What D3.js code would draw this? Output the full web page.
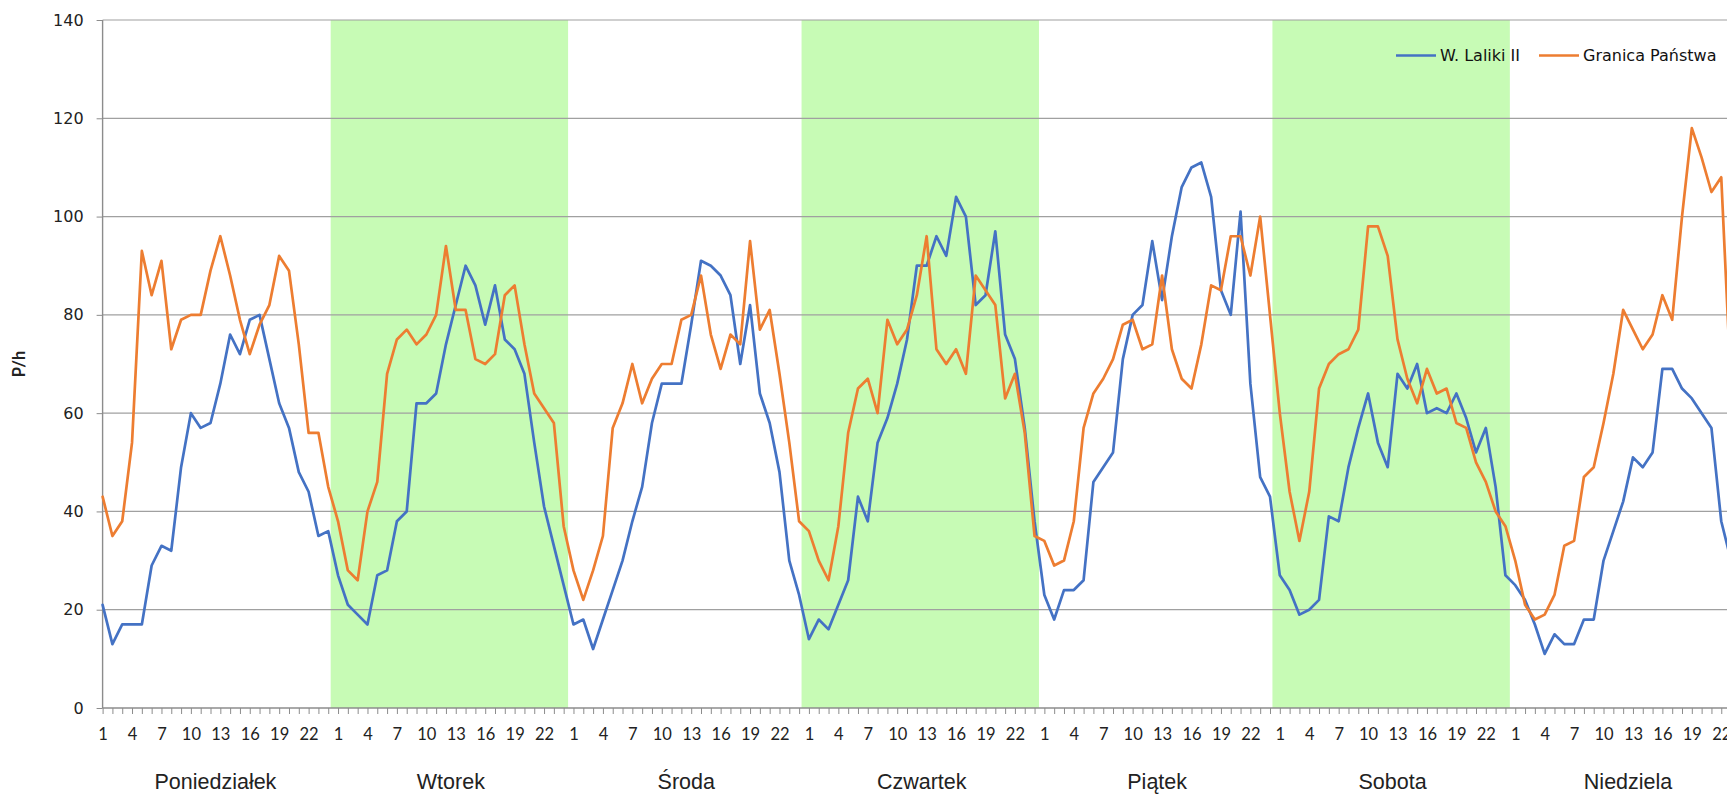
<!DOCTYPE html>
<html>
<head>
<meta charset="utf-8">
<script src="https://cdn.jsdelivr.net/npm/d3@7"></script>
<style>
    body { margin: 0; background: #fff; }
    svg { display: block; }
</style>
</head>
<body>
<div id="chart"></div>
<script>
'use strict';

const days = ['Poniedziałek', 'Wtorek', 'Środa', 'Czwartek', 'Piątek', 'Sobota', 'Niedziela'];
const shadedDays = ['Wtorek', 'Czwartek', 'Sobota'];
const hourLabels = [1, 4, 7, 10, 13, 16, 19, 22];
const yTicks = [0, 20, 40, 60, 80, 100, 120, 140];
const seriesNames = ['W. Laliki II', 'Granica Państwa'];
const seriesColors = ['#4472c4', '#ed7d31'];

// hourly values, one row per day (Sunday is cut off at the right edge)
const laliki = [
    21, 13, 17, 17, 17, 29, 33, 32, 49, 60, 57, 58, 66, 76, 72, 79, 80, 71, 62, 57, 48, 44, 35, 36,
    27, 21, 19, 17, 27, 28, 38, 40, 62, 62, 64, 74, 82, 90, 86, 78, 86, 75, 73, 68, 54, 41, 33, 25,
    17, 18, 12, 18, 24, 30, 38, 45, 58, 66, 66, 66, 78, 91, 90, 88, 84, 70, 82, 64, 58, 48, 30, 23,
    14, 18, 16, 21, 26, 43, 38, 54, 59, 66, 75, 90, 90, 96, 92, 104, 100, 82, 84, 97, 76, 71, 57, 38,
    23, 18, 24, 24, 26, 46, 49, 52, 71, 80, 82, 95, 83, 96, 106, 110, 111, 104, 85, 80, 101, 66, 47, 43,
    27, 24, 19, 20, 22, 39, 38, 49, 57, 64, 54, 49, 68, 65, 70, 60, 61, 60, 64, 59, 52, 57, 45, 27,
    25, 22, 17, 11, 15, 13, 13, 18, 18, 30, 36, 42, 51, 49, 52, 69, 69, 65, 63, 60, 57, 38, 30
];

const granica = [
    43, 35, 38, 54, 93, 84, 91, 73, 79, 80, 80, 89, 96, 88, 79, 72, 78, 82, 92, 89, 74, 56, 56, 45,
    38, 28, 26, 40, 46, 68, 75, 77, 74, 76, 80, 94, 81, 81, 71, 70, 72, 84, 86, 74, 64, 61, 58, 37,
    28, 22, 28, 35, 57, 62, 70, 62, 67, 70, 70, 79, 80, 88, 76, 69, 76, 74, 95, 77, 81, 68, 54, 38,
    36, 30, 26, 37, 56, 65, 67, 60, 79, 74, 77, 84, 96, 73, 70, 73, 68, 88, 85, 82, 63, 68, 56, 35,
    34, 29, 30, 38, 57, 64, 67, 71, 78, 79, 73, 74, 88, 73, 67, 65, 74, 86, 85, 96, 96, 88, 100, 80,
    60, 44, 34, 44, 65, 70, 72, 73, 77, 98, 98, 92, 75, 67, 62, 69, 64, 65, 58, 57, 50, 46, 40, 37,
    30, 21, 18, 19, 23, 33, 34, 47, 49, 58, 68, 81, 77, 73, 76, 84, 79, 100, 118, 112, 105, 108, 65
];

const width = 1727;
const height = 795;
const plotLeft = 102.6;
const plotTop = 20;
const plotBottom = 708;
const hourStep = 9.81;
const hoursPerDay = 24;

drawChart();

function drawChart() {
    const svg = d3.select('#chart')
        .append('svg')
        .attr('width', width)
        .attr('height', height);

    const pointCount = days.length * hoursPerDay;
    const x = d3.scaleLinear()
        .domain([0, pointCount - 1])
        .range([plotLeft, plotLeft + (pointCount - 1) * hourStep]);
    const y = d3.scaleLinear()
        .domain([0, 140])
        .range([plotBottom, plotTop]);

    drawBands(svg, x);
    drawGrid(svg, y);
    drawAxes(svg, x, y, pointCount);
    drawLines(svg, x, y);
    drawLegend(svg);
}

function drawBands(svg, x) {
    svg.append('g')
        .selectAll('rect')
        .data(shadedDays.map(d => days.indexOf(d)))
        .join('rect')
        .attr('x', k => x(k * hoursPerDay - 0.75))
        .attr('width', k => x(k * hoursPerDay + 23.45) - x(k * hoursPerDay - 0.75))
        .attr('y', plotTop)
        .attr('height', plotBottom - plotTop)
        .attr('fill', '#c7fbb5');
}

function drawGrid(svg, y) {
    svg.append('g')
        .selectAll('line')
        .data(yTicks.filter(t => t > 0))
        .join('line')
        .attr('x1', plotLeft)
        .attr('x2', width)
        .attr('y1', d => y(d))
        .attr('y2', d => y(d))
        .attr('stroke', '#a0a0a0')
        .attr('stroke-width', 1.2);
}

function drawAxes(svg, x, y, pointCount) {
    const yAxis = svg.append('g')
        .attr('transform', `translate(${plotLeft},0)`)
        .call(d3.axisLeft(y).tickValues(yTicks).tickSize(6).tickPadding(13));

    yAxis.selectAll('text')
        .attr('font-family', 'DejaVu Sans')
        .attr('font-size', 16)
        .attr('fill', '#222');

    const xAxis = svg.append('g')
        .attr('transform', `translate(0,${plotBottom})`)
        .call(d3.axisBottom(x)
            .tickValues(d3.range(pointCount))
            .tickSize(6)
            .tickPadding(14)
            .tickFormat(i => {
                const hour = i % hoursPerDay + 1;
                return hourLabels.includes(hour) ? hour : '';
            }));

    xAxis.selectAll('text')
        .attr('font-family', 'Lato')
        .attr('font-size', 16.5)
        .attr('fill', '#222');

    [yAxis, xAxis].forEach(axis => {
        axis.select('.domain').attr('stroke', '#8c8c8c').attr('stroke-width', 1.4);
        axis.selectAll('.tick line').attr('stroke', '#8c8c8c');
    });
    xAxis.select('.domain').attr('d', `M${plotLeft},0H${width}`);
    yAxis.select('.domain').attr('d', `M0,${plotBottom}V${plotTop}`);

    svg.append('g')
        .selectAll('text')
        .data(days)
        .join('text')
        .attr('x', (d, k) => x(k * hoursPerDay + 11.5))
        .attr('y', 789)
        .attr('text-anchor', 'middle')
        .attr('font-family', 'Liberation Sans')
        .attr('font-size', 21.5)
        .attr('fill', '#222')
        .text(d => d);

    svg.append('text')
        .attr('transform', `translate(19,${(plotTop + plotBottom) / 2}) rotate(-90)`)
        .attr('text-anchor', 'middle')
        .attr('dy', '0.35em')
        .attr('font-family', 'Lato')
        .attr('font-weight', 'bold')
        .attr('font-size', 16.5)
        .attr('fill', '#222')
        .text('P/h');
}

function drawLines(svg, x, y) {
    const line = d3.line()
        .x((d, i) => x(i))
        .y(d => y(d));

    svg.append('g')
        .selectAll('path')
        .data([laliki, granica])
        .join('path')
        .attr('d', line)
        .attr('fill', 'none')
        .attr('stroke', (d, i) => seriesColors[i])
        .attr('stroke-width', 2.7)
        .attr('stroke-linejoin', 'round')
        .attr('stroke-linecap', 'round');
}

function drawLegend(svg) {
    const legendX = [1396, 1539];
    const item = svg.append('g')
        .selectAll('g')
        .data(seriesNames)
        .join('g')
        .attr('transform', (d, i) => `translate(${legendX[i]},55.5)`);

    item.append('line')
        .attr('x2', 40)
        .attr('stroke', (d, i) => seriesColors[i])
        .attr('stroke-width', 2.7);

    item.append('text')
        .attr('x', 44)
        .attr('dy', '0.36em')
        .attr('font-family', 'DejaVu Sans')
        .attr('font-size', 16)
        .attr('fill', '#111')
        .text(d => d);
}
</script>
</body>
</html>
